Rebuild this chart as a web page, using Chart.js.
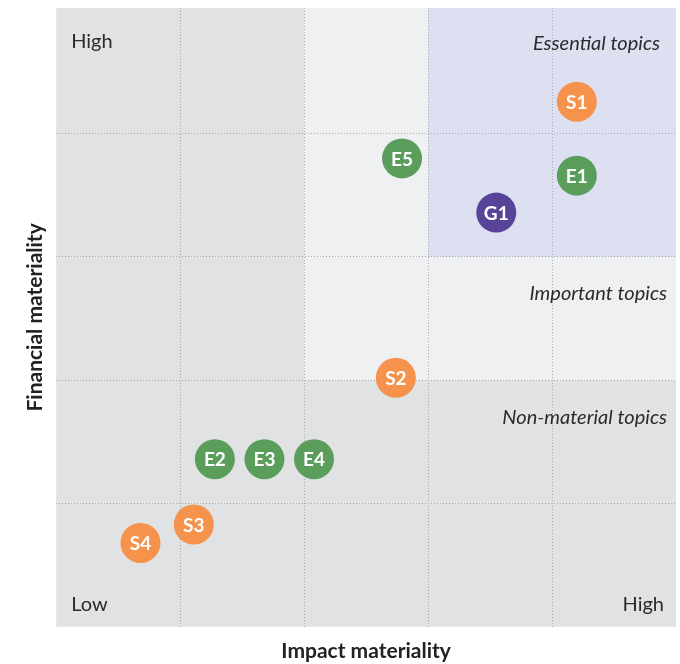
<!DOCTYPE html>
<html>
<head>
<meta charset="utf-8">
<script src="https://cdn.jsdelivr.net/npm/chart.js@4"></script>
<style>
  html, body { margin: 0; padding: 0; background: #fff; }
  #wrap { width: 680px; height: 664px; }
</style>
</head>
<body>
<div id="wrap"><canvas id="matrix"></canvas></div>
<script>
// topics and their scores (0..5 on both axes)
const topics = ['S1', 'E5', 'E1', 'G1', 'S2', 'E2', 'E3', 'E4', 'S3', 'S4'];
const impact = [4.20, 2.79, 4.20, 3.55, 2.74, 1.28, 1.68, 2.08, 1.11, 0.68];
const financial = [4.26, 3.80, 3.66, 3.36, 2.02, 1.36, 1.36, 1.36, 0.83, 0.68];

const xTitle = 'Impact materiality';
const yTitle = 'Financial materiality';
const zoneLabels = ['Essential topics', 'Important topics', 'Non-material topics'];
const zoneLabelY = [4.73, 2.70, 1.70];

const colours = { E: '#5b9e5c', S: '#f5924b', G: '#574397' };
const FONT = 'Lato, "Open Sans", sans-serif';

let ctx = document.getElementById('matrix').getContext('2d');

const bgPlugin = {
    id: 'zones',
    beforeDraw(chart) {
        const { ctx, chartArea: a, scales: { x, y } } = chart;
        ctx.save();
        ctx.fillStyle = '#e1e2e4';
        ctx.fillRect(a.left, a.top, a.right - a.left, a.bottom - a.top);
        // important zone
        ctx.fillStyle = '#eff0f2';
        ctx.fillRect(x.getPixelForValue(2), a.top,
            a.right - x.getPixelForValue(2), y.getPixelForValue(2) - a.top);
        // essential zone
        ctx.fillStyle = '#dde0f1';
        ctx.fillRect(x.getPixelForValue(3), a.top,
            a.right - x.getPixelForValue(3), y.getPixelForValue(3) - a.top);
        ctx.restore();
    },
    afterDatasetsDraw(chart) {
        const { ctx, chartArea: a, scales: { x, y } } = chart;
        ctx.save();
        // bubble labels
        const meta = chart.getDatasetMeta(0);
        ctx.fillStyle = '#fff';
        ctx.font = 'bold 19px ' + FONT;
        ctx.textAlign = 'center';
        ctx.textBaseline = 'middle';
        meta.data.forEach((pt, i) => {
            ctx.fillText(topics[i], pt.x, pt.y + 1);
        });
        // zone names
        ctx.fillStyle = '#2b2b2d';
        ctx.font = 'italic 20px ' + FONT;
        ctx.textAlign = 'right';
        zoneLabels.forEach((t, i) => {
            const right = i === 0 ? a.right - 16 : a.right - 9;
            ctx.fillText(t, right, y.getPixelForValue(zoneLabelY[i]));
        });
        // low / high markers
        ctx.font = '20px ' + FONT;
        ctx.textAlign = 'left';
        ctx.fillText('High', a.left + 15, y.getPixelForValue(4.75));
        ctx.fillText('Low', a.left + 15, y.getPixelForValue(0.18));
        ctx.textAlign = 'right';
        ctx.fillText('High', a.right - 12, y.getPixelForValue(0.18));
        ctx.restore();
    }
};

const gridOpts = {
    color: (c) => (c.tick.value > 0 && c.tick.value < 5) ? '#a9aaad' : 'rgba(0,0,0,0)',
    lineWidth: 1,
    drawTicks: false
};

let matrixChart = new Chart(ctx, {
    type: 'scatter',
    data: {
        datasets: [{
            label: 'Topics',
            data: topics.map((t, i) => ({ x: impact[i], y: financial[i] })),
            backgroundColor: topics.map(t => colours[t[0]]),
            borderWidth: 0,
            pointRadius: 20,
            pointHoverRadius: 20
        }]
    },
    options: {
        responsive: true,
        maintainAspectRatio: false,
        animation: false,
        layout: { autoPadding: false, padding: { top: 8, right: 4, left: 23, bottom: 0 } },
        plugins: {
            legend: { display: false },
            tooltip: { enabled: false }
        },
        scales: {
            x: {
                min: 0, max: 5,
                ticks: { display: false, stepSize: 1 },
                grid: gridOpts,
                border: { display: false, dash: [1, 2] },
                title: {
                    display: true, text: xTitle, color: '#222',
                    font: { family: FONT, size: 21, weight: 'bold' },
                    padding: { top: 12, bottom: 0 }
                }
            },
            y: {
                min: 0, max: 5.02,
                ticks: { display: false, stepSize: 1 },
                grid: gridOpts,
                border: { display: false, dash: [1, 2] },
                title: {
                    display: true, text: yTitle, color: '#222',
                    font: { family: FONT, size: 21, weight: 'bold' },
                    padding: { top: 0, bottom: 8 }
                }
            }
        }
    },
    plugins: [bgPlugin]
});
</script>
</body>
</html>
